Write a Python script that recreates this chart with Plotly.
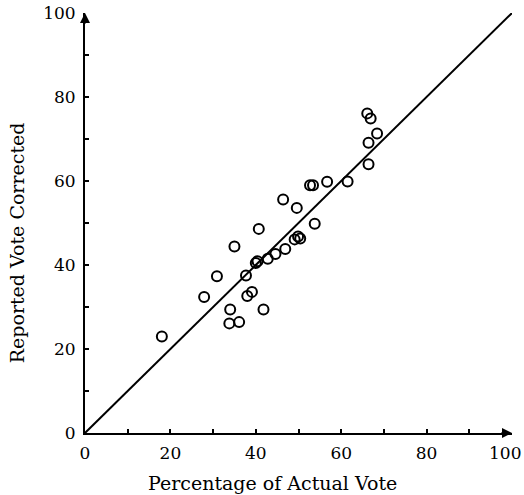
import plotly.graph_objects as go

actual = [18.0, 27.9, 30.9, 35.0, 40.7, 46.4, 49.6, 52.7, 53.4, 56.7, 61.5, 53.8,
          49.1, 50.4, 49.9, 46.9, 44.6, 42.8, 40.0, 40.4, 37.7, 39.1, 38.0, 34.0,
          33.8, 36.1, 41.8, 66.1, 66.9, 68.4, 66.4, 66.4]
reported = [23.0, 32.4, 37.3, 44.4, 48.6, 55.6, 53.6, 59.0, 59.0, 59.8, 59.9, 49.8,
            46.1, 46.3, 46.8, 43.8, 42.6, 41.5, 40.5, 40.9, 37.5, 33.6, 32.6, 29.4,
            26.1, 26.4, 29.4, 76.1, 74.9, 71.3, 69.1, 64.0]
line_x = [0, 100]
line_y = [0, 100]
tick_vals = [0, 20, 40, 60, 80, 100]
tick_text = ["0", "20", "40", "60", "80", "100"]
x_title = "Percentage of Actual Vote"
y_title = "Reported Vote Corrected"

FONT = "DejaVu Serif"
TICKFONT = dict(family=FONT, size=17, color="black")

fig = go.Figure()
fig.add_trace(go.Scatter(x=line_x, y=line_y, mode="lines",
                         line=dict(color="black", width=2), hoverinfo="skip"))
fig.add_trace(go.Scatter(x=actual, y=reported, mode="markers",
                         marker=dict(symbol="circle-open", size=10, color="black",
                                     line=dict(width=2, color="black"))))

axis_common = dict(range=[0, 100], showgrid=False, zeroline=False, showline=True,
                   linecolor="black", linewidth=2, ticks="inside", ticklen=4,
                   tickwidth=2, tickcolor="black", tickmode="array",
                   tickvals=tick_vals, automargin=False,
                   ticklabeloverflow="allow",
                   minor=dict(ticks="inside", ticklen=4, tickwidth=2, tickcolor="black", dtick=10),
                   tickfont=TICKFONT)

# last x tick label is drawn as an annotation so it stays inside the window
x_text = tick_text[:-1] + [""]

fig.update_layout(
    width=524, height=495,
    margin=dict(l=85, r=12, t=13, b=62),
    plot_bgcolor="white", paper_bgcolor="white",
    showlegend=False,
    font=dict(family=FONT, color="black"),
    xaxis=dict(**axis_common, ticktext=x_text, ticklabelstandoff=4),
    yaxis=dict(**axis_common, ticktext=tick_text, ticklabelstandoff=4),
)
fig.add_annotation(x=tick_vals[-1], y=0, xref="x", yref="y", text=tick_text[-1],
                   showarrow=False, xanchor="right", yanchor="middle",
                   xshift=11, yshift=-20, font=TICKFONT)
fig.add_annotation(x=100, y=0, xref="x", yref="y", ax=-12, ay=0, showarrow=True,
                   arrowhead=2, arrowsize=1, arrowwidth=2, arrowcolor="black", text="")
fig.add_annotation(x=0, y=100, xref="x", yref="y", ax=0, ay=12, showarrow=True,
                   arrowhead=2, arrowsize=1, arrowwidth=2, arrowcolor="black", text="")
fig.add_annotation(x=0.438, y=-0.119, xref="paper", yref="paper", text=x_title,
                   showarrow=False, xanchor="center", yanchor="middle",
                   font=dict(family=FONT, size=19, color="black"))
fig.add_annotation(x=-0.159, y=0.452, xref="paper", yref="paper", text=y_title,
                   showarrow=False, xanchor="center", yanchor="middle", textangle=-90,
                   font=dict(family=FONT, size=19, color="black"))

fig.write_html("out.html", config={"displayModeBar": False},
               post_script="document.body.style.margin='0';")
